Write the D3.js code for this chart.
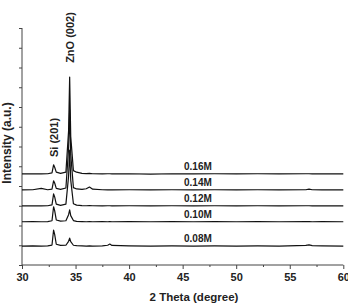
<!DOCTYPE html>
<html><head><meta charset="utf-8">
<script src="https://cdn.jsdelivr.net/npm/d3@7"></script>
<style>
html,body{margin:0;padding:0;background:#fff;}
text{font-family:"Liberation Sans",Arial,sans-serif;font-weight:bold;fill:#222;}
</style></head>
<body><svg id="c" width="348" height="305"></svg>
<script>
// 2θ sample positions (degree)
const twoTheta = [30, 31, 31.8, 32.4, 32.8, 32.95, 33.05, 33.2, 33.6, 34.1, 34.35, 34.45, 34.55, 34.8, 35.1, 35.6, 36.0, 36.3, 36.6, 37.5, 38.0, 38.2, 38.4, 40, 42, 44, 46, 48, 50, 52, 54, 56.5, 56.8, 57.1, 58, 60];
const seriesNames = ["0.16M", "0.14M", "0.12M", "0.10M", "0.08M"];
// intensity (a.u., offset stacked)
const s016 = [4.61, 4.62, 4.61, 4.62, 4.66, 5.07, 4.95, 4.70, 4.64, 4.70, 6.80, 9.52, 6.50, 4.78, 4.70, 4.64, 4.63, 4.64, 4.62, 4.61, 4.62, 4.62, 4.61, 4.62, 4.60, 4.62, 4.61, 4.62, 4.61, 4.62, 4.61, 4.62, 4.62, 4.61, 4.62, 4.61];
const s014 = [3.80, 3.81, 3.88, 3.81, 3.84, 4.26, 4.15, 3.88, 3.83, 3.90, 5.90, 7.85, 5.60, 3.92, 3.85, 3.83, 3.86, 3.95, 3.84, 3.81, 3.80, 3.81, 3.80, 3.81, 3.80, 3.81, 3.80, 3.81, 3.80, 3.81, 3.80, 3.81, 3.84, 3.81, 3.80, 3.80];
const s012 = [2.99, 3.00, 2.99, 3.00, 3.04, 3.60, 3.45, 3.08, 3.02, 3.08, 4.50, 5.82, 4.30, 3.10, 3.03, 3.01, 3.00, 3.01, 3.00, 2.99, 3.00, 3.00, 2.99, 3.00, 2.99, 3.00, 2.99, 3.00, 2.99, 3.00, 2.99, 3.00, 3.00, 2.99, 3.00, 2.99];
const s010 = [2.19, 2.20, 2.19, 2.20, 2.24, 2.95, 2.75, 2.28, 2.22, 2.24, 2.55, 2.79, 2.50, 2.25, 2.21, 2.20, 2.19, 2.20, 2.19, 2.20, 2.19, 2.20, 2.19, 2.20, 2.19, 2.20, 2.19, 2.20, 2.19, 2.20, 2.19, 2.20, 2.20, 2.19, 2.20, 2.19];
const s008 = [0.96, 0.97, 0.96, 0.97, 1.01, 1.77, 1.55, 1.05, 0.99, 1.00, 1.20, 1.36, 1.18, 1.00, 0.98, 0.97, 0.96, 0.97, 0.96, 0.97, 1.00, 1.06, 0.99, 0.97, 0.96, 0.97, 0.96, 0.97, 0.96, 0.97, 0.96, 0.99, 1.02, 0.98, 0.97, 0.96];
const seriesBase = [4.61, 3.80, 2.99, 2.19, 0.96];
const xTicks = [30, 35, 40, 45, 50, 55, 60];
const xMinorTicks = [32.5, 37.5, 42.5, 47.5, 52.5, 57.5];
const yTicks = [0,1,2,3,4,5,6,7,8,9,10,11,12];
const peakLabels = ["Si (201)", "ZnO (002)"];
const peakPos = [33.0, 34.45];

const allSeries = [s016, s014, s012, s010, s008];
const svg = d3.select("#c");
const x = d3.scaleLinear().domain([30, 60]).range([22, 343.3]);
const y = d3.scaleLinear().domain([0, 12]).range([265, 28]);

// axes
const ax = svg.append("g").attr("transform", "translate(0,265)");
ax.call(d3.axisBottom(x).tickValues(xTicks).tickSize(4).tickPadding(4).tickFormat(d3.format("d")));
ax.append("g").call(d3.axisBottom(x).tickValues(xMinorTicks).tickSize(2).tickFormat(""));
ax.selectAll("path.domain").remove();
ax.append("line").attr("x1", x(30)).attr("x2", x(60)).attr("stroke", "#444").attr("stroke-width", 1);
ax.selectAll(".tick line").attr("stroke", "#444");
ax.selectAll(".tick text").style("font-size", "11px").style("font-family", "Liberation Sans, Arial, sans-serif").style("font-weight", "bold").attr("fill", "#222");

const ay = svg.append("g").attr("transform", "translate(22,0)");
ay.call(d3.axisLeft(y).tickValues(yTicks).tickSize(3).tickFormat(""));
ay.select("path.domain").remove();
ay.append("line").attr("y1", y(0)).attr("y2", y(12)).attr("stroke", "#444").attr("stroke-width", 1);
ay.selectAll(".tick line").attr("stroke", "#444");

// lines
const line = d3.line().x((d, i) => x(twoTheta[i])).y(d => y(d));
allSeries.forEach(s => {
  svg.append("path").datum(s).attr("d", line).attr("fill", "none")
    .attr("stroke", "#111").attr("stroke-width", 1.2).attr("stroke-linejoin", "round");
});

// series labels
seriesNames.forEach((n, i) => {
  svg.append("text").attr("x", 184).attr("y", y(seriesBase[i]) - 3.6)
    .style("font-size", "10px").text(n);
});

// peak labels
const peakLabelY = [137.5, 37.5];
peakLabels.forEach((t, i) => {
  svg.append("text")
    .attr("transform", `translate(${x(peakPos[i]) + 4},${peakLabelY[i]}) rotate(-90)`)
    .attr("text-anchor", "middle").style("font-size", "11px").text(t);
});

// axis titles
svg.append("text").attr("transform", "translate(11,143) rotate(-90)")
  .attr("text-anchor", "middle").style("font-size", "12px").text("Intensity (a.u.)");
svg.append("text").attr("x", 194).attr("y", 300.5)
  .attr("text-anchor", "middle").style("font-size", "11.5px").text("2 Theta (degree)");
</script></body></html>
